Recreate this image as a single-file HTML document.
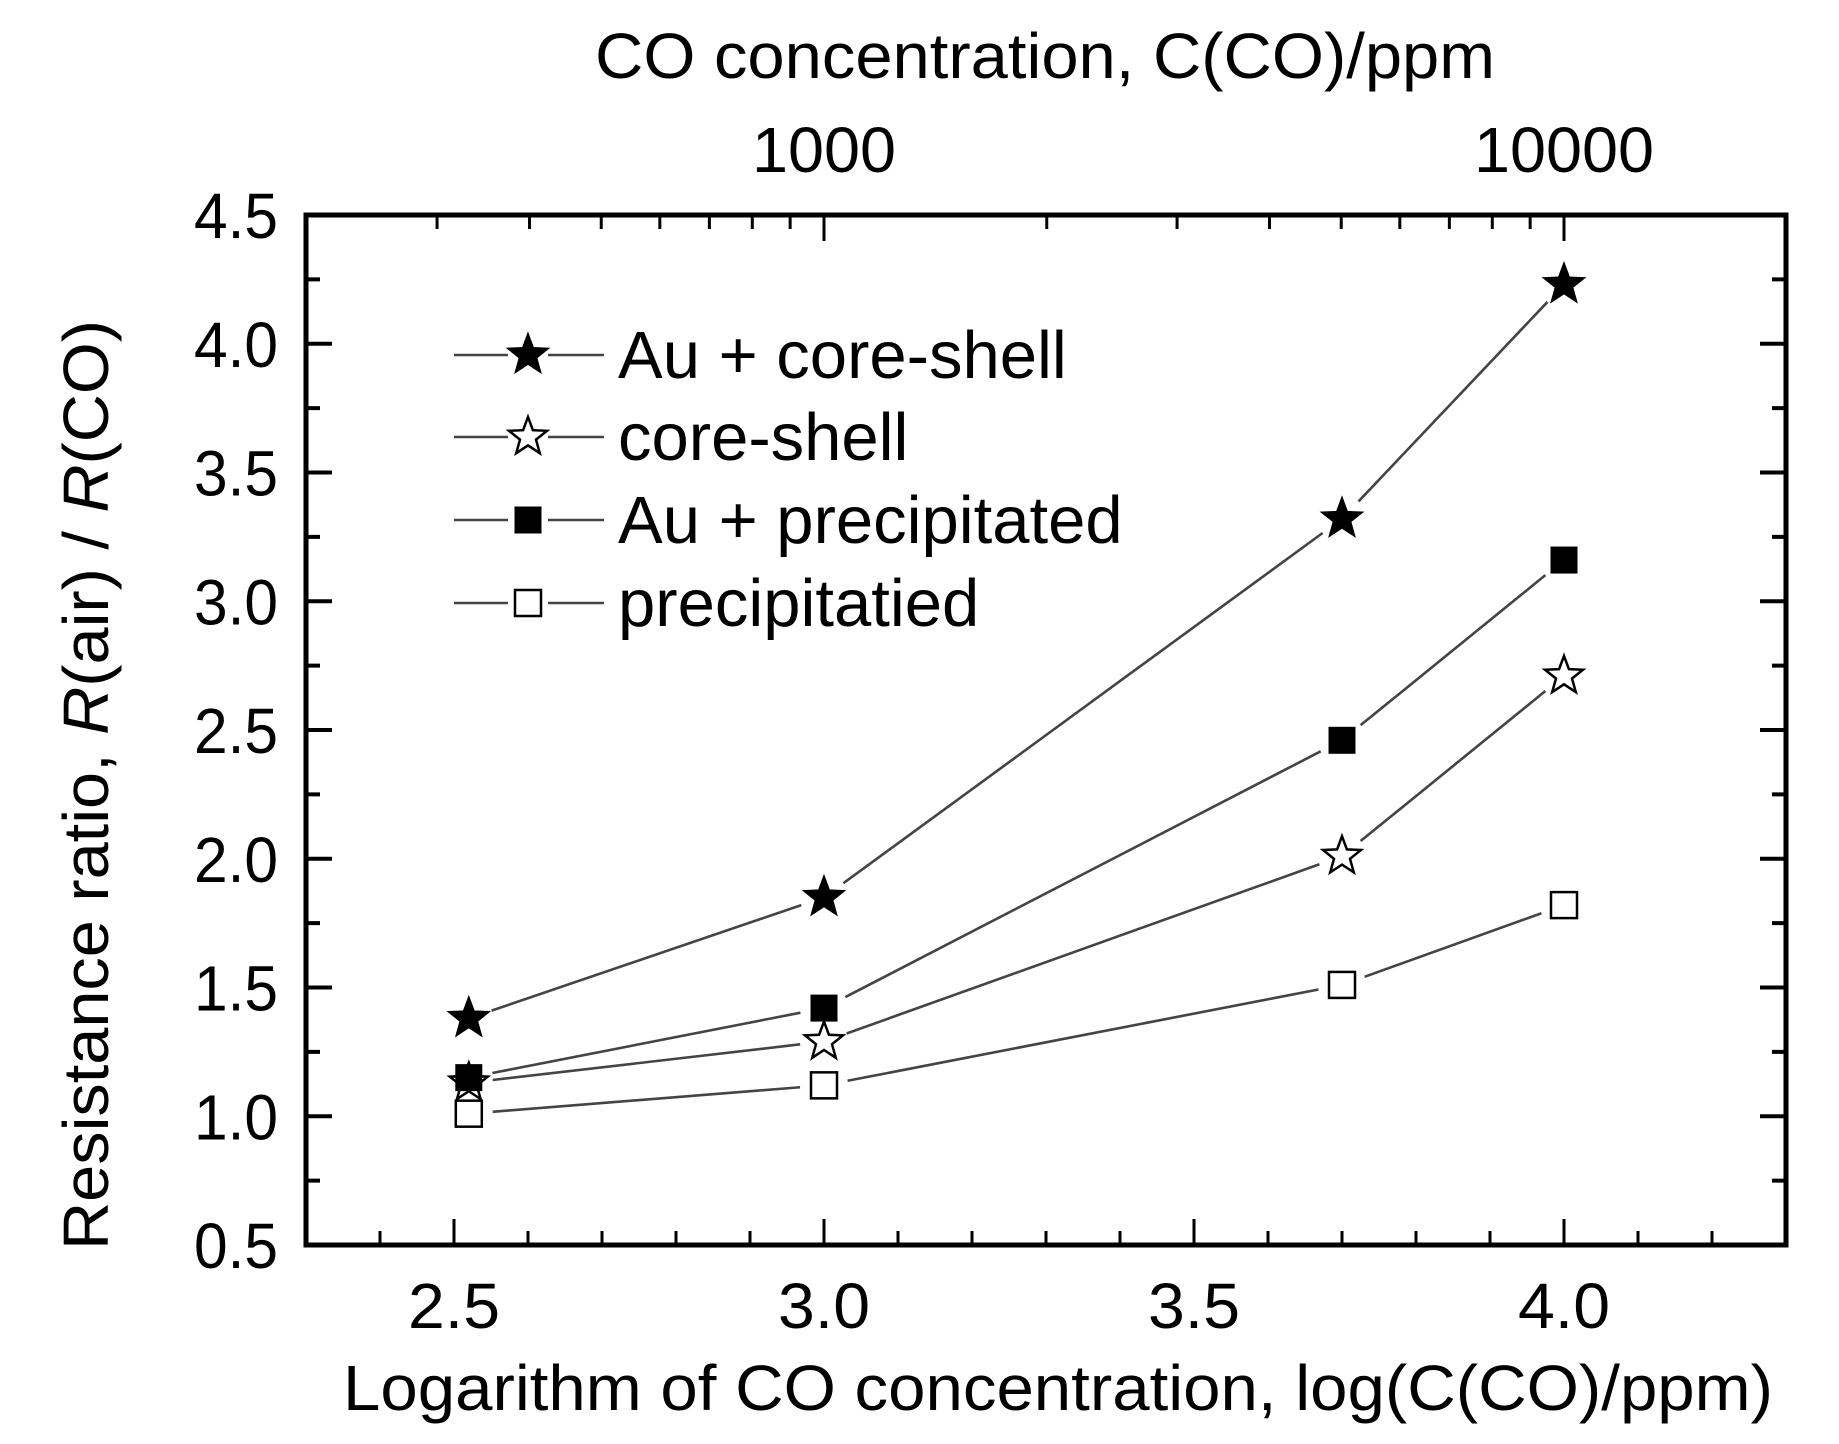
<!DOCTYPE html>
<html><head><meta charset="utf-8"><style>
html,body{margin:0;padding:0;background:#fff;}
svg text{font-family:"Liberation Sans",Arial,sans-serif;fill:#000;}
</style></head><body>
<svg id="chart" width="1839" height="1439" viewBox="0 0 1839 1439" xmlns="http://www.w3.org/2000/svg">
<rect width="1839" height="1439" fill="#fff"/>
<g id="axes"></g>
<g id="series"></g>
<g id="legend"></g>
</svg>
<script>
const xValues = [2.52, 3.0, 3.7, 4.0];
const auCoreShell = [1.38, 1.85, 3.32, 4.23];
const coreShell = [1.13, 1.29, 2.01, 2.71];
const auPrecip = [1.15, 1.42, 2.46, 3.16];
const precip = [1.01, 1.12, 1.51, 1.82];
const seriesNames = ["Au + core-shell", "core-shell", "Au + precipitated", "precipitatied"];
const xTickLabels = ["2.5", "3.0", "3.5", "4.0"];
const yTickLabels = ["0.5","1.0","1.5","2.0","2.5","3.0","3.5","4.0","4.5"];
const topTickLabels = ["1000", "10000"];

const NS = "http://www.w3.org/2000/svg";
const L=306, R=1786, T=215, B=1245;
const XMIN=2.3, XMAX=4.3, YMIN=0.5, YMAX=4.5;
function xs(v){return L+(v-XMIN)/(XMAX-XMIN)*(R-L);}
function ys(v){return B-(v-YMIN)/(YMAX-YMIN)*(B-T);}
function mk(tag, attrs, parent){const e=document.createElementNS(NS,tag);for(const k in attrs)e.setAttribute(k,attrs[k]);parent.appendChild(e);return e;}
const axes=document.getElementById('axes'), ser=document.getElementById('series'), leg=document.getElementById('legend');

let fr=mk('rect',{x:L,y:T,width:R-L,height:B-T,fill:'none',stroke:'#000','stroke-width':5},axes);



for(let i=0;i<=20;i++){const v=XMIN+i*0.1;const x=xs(v);const major=(i%5===2);
 const t=mk('line',{x1:x,y1:B,x2:x,y2:B-(major?26:14),stroke:'#000','stroke-width':3},axes);
 
 }
xTickLabels.forEach(s=>{const tx=mk('text',{x:xs(parseFloat(s)),y:1328,'text-anchor':'middle','font-size':64,textLength:92,lengthAdjust:'spacingAndGlyphs'},axes);tx.textContent=s;
 
 });
for(let i=0;i<=16;i++){const v=YMIN+i*0.25;const y=ys(v);const major=(i%2===0);const len=major?26:14;
 const a=mk('line',{x1:L,y1:y,x2:L+len,y2:y,stroke:'#000','stroke-width':4},axes);
 
 
 const b=mk('line',{x1:R,y1:y,x2:R-len,y2:y,stroke:'#000','stroke-width':4},axes);
 
 }
yTickLabels.forEach(s=>{const tx=mk('text',{x:278,y:ys(parseFloat(s))+23,'text-anchor':'end','font-size':64,textLength:84,lengthAdjust:'spacingAndGlyphs'},axes);tx.textContent=s;
 
 });
for(let d=2;d<=5;d++){for(let m=1;m<=9;m++){const lv=Math.log10(m*Math.pow(10,d));if(lv<XMIN||lv>XMAX)continue;const x=xs(lv);
 const t=mk('line',{x1:x,y1:T,x2:x,y2:T+(m===1?26:14),stroke:'#000','stroke-width':3},axes);
 
 }}
topTickLabels.forEach(s=>{const tx=mk('text',{x:xs(Math.log10(parseFloat(s))),y:172,'text-anchor':'middle','font-size':64,textLength:s.length*36,lengthAdjust:'spacingAndGlyphs'},axes);tx.textContent=s;
 
 });
let tt=mk('text',{x:595,y:78,'font-size':64,textLength:900,lengthAdjust:'spacingAndGlyphs'},axes);tt.textContent='CO concentration, C(CO)/ppm';


let xt=mk('text',{x:343,y:1410,'font-size':64,textLength:1430,lengthAdjust:'spacingAndGlyphs'},axes);xt.textContent='Logarithm of CO concentration, log(C(CO)/ppm)';


let yt=mk('text',{x:0,y:0,'font-size':64,textLength:930,lengthAdjust:'spacingAndGlyphs',transform:'translate(108,1250) rotate(-90)'},axes);
yt.innerHTML='Resistance ratio, <tspan font-style="italic">R</tspan>(air) / <tspan font-style="italic">R</tspan>(CO)';



function starPts(cx,cy,r){let p=[];for(let i=0;i<10;i++){const a=-Math.PI/2+i*Math.PI/5;const rr=i%2?r*0.42:r;p.push((cx+rr*Math.cos(a)).toFixed(1)+','+(cy+rr*Math.sin(a)).toFixed(1));}return p.join(' ');}
function marker(kind,cx,cy,parent){
 if(kind==='fstar'||kind==='ostar'){return mk('polygon',{points:starPts(cx,cy,20),fill:kind==='fstar'?'#000':'#fff',stroke:'#000','stroke-width':2.5},parent);}
 return mk('rect',{x:cx-13,y:cy-13,width:26,height:26,fill:kind==='fsq'?'#000':'#fff',stroke:'#000','stroke-width':kind==='fsq'?1:2.5},parent);}
const allSeries=[auCoreShell,coreShell,auPrecip,precip];
const kinds=['fstar','ostar','fsq','osq'];
const drawOrder=[3,1,2,0];
drawOrder.forEach(si=>{const vals=allSeries[si];
 for(let i=0;i<vals.length-1;i++){const x1=xs(xValues[i]),y1=ys(vals[i]),x2=xs(xValues[i+1]),y2=ys(vals[i+1]);
  const dx=x2-x1,dy=y2-y1,len=Math.hypot(dx,dy),g=24;
  const ln=mk('line',{x1:x1+dx/len*g,y1:y1+dy/len*g,x2:x2-dx/len*g,y2:y2-dy/len*g,stroke:'#444','stroke-width':2.6},ser);
  
  }
 vals.forEach((v,i)=>{const m=marker(kinds[si],xs(xValues[i]),ys(v),ser);
  
  });});
const legY=[355,437,520,603];
seriesNames.forEach((n,i)=>{const y=legY[i];
 const l1=mk('line',{x1:454,y1:y,x2:508,y2:y,stroke:'#444','stroke-width':2.6},leg);
 
 
 const l2=mk('line',{x1:548,y1:y,x2:604,y2:y,stroke:'#444','stroke-width':2.6},leg);
 
 
 const m=marker(kinds[i],528,y,leg);
 
 
 const tx=mk('text',{x:618,y:y+23,'font-size':67},leg);tx.textContent=n;
 
 });
</script>
</body></html>
